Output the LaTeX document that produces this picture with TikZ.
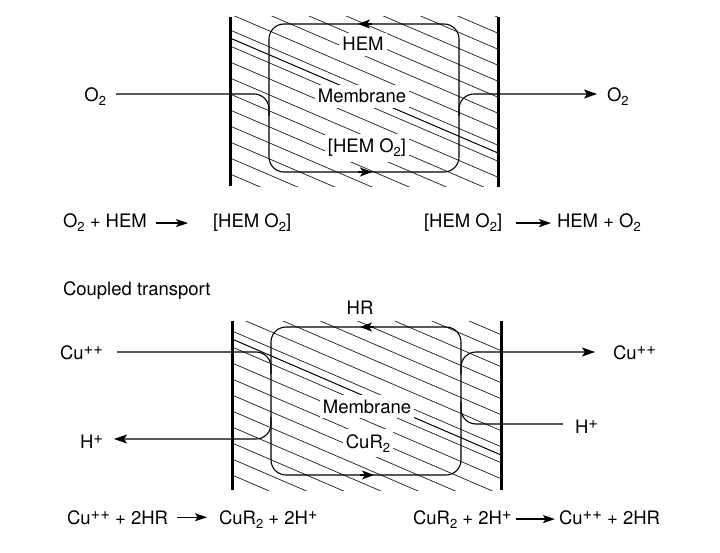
\documentclass[tikz,border=0pt]{standalone}
\usepackage{fontspec}
\setmainfont{TeX Gyre Heros}
\usetikzlibrary{arrows.meta,calc}
\newcommand{\sbs}[1]{\raisebox{-4pt}{\fontsize{13}{15}\selectfont #1}}
\newcommand{\sps}[1]{\raisebox{5pt}{\fontsize{16.5}{18}\selectfont #1}}
\begin{document}
\begin{tikzpicture}[x=1pt,y=-1pt,
  font=\fontsize{18.5}{22}\selectfont,
  txt/.style={inner sep=0pt, outer sep=0pt, anchor=base west},
  lblL/.style={inner sep=0pt, outer ysep=0pt, outer xsep=#1, anchor=base east},
  lblR/.style={inner sep=0pt, outer ysep=0pt, outer xsep=#1, anchor=base west},
  intext/.style={inner xsep=3pt, inner ysep=5pt, fill=white, anchor=base},
  flux/.style={line width=1.1pt, rounded corners=15pt},
  tip/.style={-{Stealth[length=13pt,width=9pt,inset=3pt]}},
  eqarr/.style={line width=1.2pt, -{Stealth[length=12pt,width=8pt,inset=2.5pt]}},
  wall/.style={line width=3pt},
  hatch/.style={line width=0.75pt, black!85},
  memline/.style={line width=1pt},
  loopbox/.style={draw, line width=1.1pt, rounded corners=15pt, minimum width=190pt,
    minimum height=148pt, inner sep=0pt, outer sep=0pt},
  looptip/.style={line width=1.1pt, -{Stealth[length=12pt,width=9pt,inset=3pt]}},
]
\useasboundingbox (0,0) rectangle (720,553);

% ---------------- top diagram ----------------
\begin{scope}
  \clip (230,17) rectangle (498,187);
  \foreach \k in {-9,...,10}
    \draw[hatch] (230,{30+16*\k}) -- ++(300,129);
\end{scope}
\draw[memline] (230,38) -- (498,153);

\node[intext] (hem) at (363,51) {HEM};
\node[intext] (mem1) at (362,103) {Membrane};
\node[intext] (hemo) at (367,153) {[HEM O\sbs{2}]};

\draw[wall] (230,17) -- (230,186);
\draw[wall] (498,17) -- (498,187);

\node[loopbox] (box1) at (364,98) {};
\draw[looptip] ([xshift=8pt]box1.north) -- ([xshift=-6pt]box1.north);
\draw[looptip] ([xshift=-6pt]box1.south) -- ([xshift=8pt]box1.south);

\node[lblL=10pt] (O2L) at (116,102) {O\sbs{2}};
\node[lblR=10pt] (O2R) at (597,102) {O\sbs{2}};
\coordinate (k1) at (269,94);
\coordinate (k2) at (459,94);
\draw[flux] (O2L.east |- k1) -- (k1) -- ([yshift=-22pt]k1);
\draw[flux,tip] ([yshift=-22pt]k2) -- (k2) -- (O2R.west |- k2);

% equations top
\node[txt] (e1a) at (63,228) {O\sbs{2} + HEM};
\node[txt] (e1b) at (213,228) {[HEM O\sbs{2}]};
\draw[eqarr] ($(e1a.east)+(9,0)$) -- ($(e1b.west |- e1a.east)+(-25,0)$);
\node[txt] (e2a) at (424,228) {[HEM O\sbs{2}]};
\node[txt] (e2b) at (557,228) {HEM + O\sbs{2}};
\draw[eqarr] ($(e2a.east)+(14,0)$) -- ($(e2b.west |- e2a.east)+(-6,0)$);

% ---------------- bottom diagram ----------------
\node[txt] (title) at (63,296) {Coupled transport};

\begin{scope}
  \clip (232,321) rectangle (501,490);
  \foreach \k in {-9,...,10}
    \draw[hatch] (232,{331+16*\k}) -- ++(300,129);
\end{scope}
\draw[memline] (232,339) -- (501,455);

\node[intext] (mem2) at (367,413) {Membrane};
\node[intext] (cur) at (368,448) {CuR\sbs{2}};
\node[anchor=base, inner sep=0pt] (hr) at (360,315) {HR};

\draw[wall] (232,321) -- (232,490);
\draw[wall] (501,321) -- (501,490);

\node[loopbox] (box2) at (366,401) {};
\draw[looptip] ([xshift=8pt]box2.north) -- ([xshift=-6pt]box2.north);
\draw[looptip] ([xshift=-6pt]box2.south) -- ([xshift=8pt]box2.south);

\node[lblL=14pt] (CuL) at (117,359) {Cu\sps{++}};
\node[lblL=11pt] (HL) at (114,448) {H\sps{+}};
\node[lblR=18pt] (CuR) at (595,359) {Cu\sps{++}};
\node[lblR=12pt] (HRt) at (563,433) {H\sps{+}};
\coordinate (k3) at (271,352);
\coordinate (k4) at (271,439);
\coordinate (k5) at (461,352);
\coordinate (k6) at (461,424);
\draw[flux] (CuL.east |- k3) -- (k3) -- ([yshift=-22pt]k3);
\draw[flux,tip] ([yshift=22pt]k4) -- (k4) -- (HL.east |- k4);
\draw[flux,tip] ([yshift=-22pt]k5) -- (k5) -- (CuR.west |- k5);
\draw[flux] ([yshift=22pt]k6) -- (k6) -- (HRt.west |- k6);

% equations bottom
\node[txt] (e3a) at (67,524) {Cu\sps{++} + 2HR};
\node[txt] (e3b) at (219,524) {CuR\sbs{2} + 2H\sps{+}};
\draw[eqarr] ($(e3a.east)+(9,0)$) -- ($(e3b.west |- e3a.east)+(-12,0)$);
\node[txt] (e4a) at (413,524) {CuR\sbs{2} + 2H\sps{+}};
\node[txt] (e4b) at (559,524) {Cu\sps{++} + 2HR};
\draw[eqarr] ($(e4a.east)+(4,0)$) -- ($(e4b.west |- e4a.east)+(-4,0)$);
\end{tikzpicture}
\end{document}
